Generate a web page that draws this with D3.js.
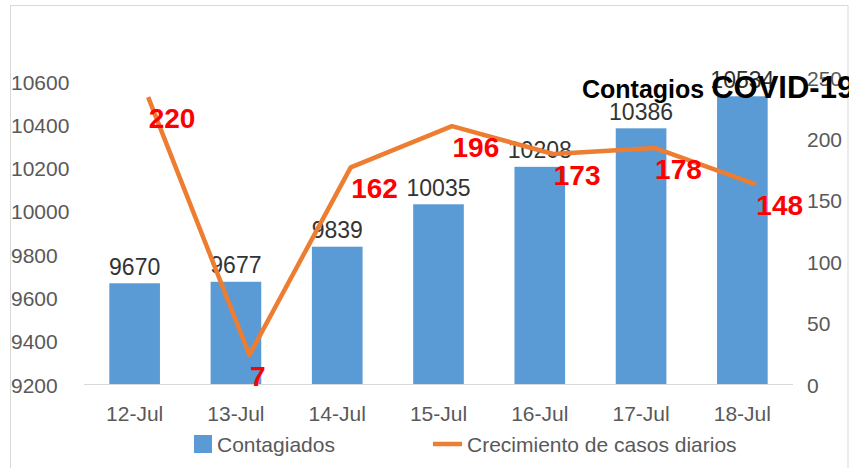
<!DOCTYPE html>
<html>
<head>
<meta charset="utf-8">
<script src="https://cdn.jsdelivr.net/npm/d3@7"></script>
<style>
  html, body { margin: 0; padding: 0; background: #fff; }
  svg { display: block; font-family: "Liberation Sans", Arial, sans-serif; }
</style>
</head>
<body>
<svg id="chart" width="849" height="468"></svg>
<script>
const categories = ["12-Jul", "13-Jul", "14-Jul", "15-Jul", "16-Jul", "17-Jul", "18-Jul"];
const contagiados = [9670, 9677, 9839, 10035, 10208, 10386, 10534];
const crecimiento = [220, 7, 162, 196, 173, 178, 148];
const leftTicks = [9200, 9400, 9600, 9800, 10000, 10200, 10400, 10600];
const rightTicks = [0, 50, 100, 150, 200, 250];
const seriesNames = ["Contagiados", "Crecimiento de casos diarios"];
const titleParts = ["Contagios ", "COVID-19"];

const svg = d3.select("#chart");

// outer border
svg.append("rect").attr("x", 10.5).attr("y", 5.5).attr("width", 837.5).attr("height", 470)
  .attr("fill", "none").attr("stroke", "#d9d9d9").attr("stroke-width", 1);

const x = d3.scaleBand().domain(categories).range([84, 793]).paddingInner(0.5).paddingOuter(0.25);
const yL = d3.scaleLinear().domain([9200, 10600]).range([385, 82]);
const yR = d3.scaleLinear().domain([0, 250]).range([385, 78]);
// the line sits in a slightly shifted plot area (as in the original)
const yLine = d3.scaleLinear().domain([0, 250]).range([363.5, 60.75]);
const xLine = c => x(c) + x.bandwidth() / 2 + 13.5;

// left axis labels
svg.append("g").selectAll("text").data(leftTicks).join("text")
  .attr("x", 11).attr("y", d => yL(d) + 7.5)
  .attr("font-size", 21).attr("fill", "#595959").text(d => d);

// right axis labels
svg.append("g").selectAll("text").data(rightTicks).join("text")
  .attr("x", 807).attr("y", d => yR(d) + 7.5)
  .attr("font-size", 21).attr("fill", "#595959").text(d => d);

// bars
svg.append("g").selectAll("rect").data(contagiados).join("rect")
  .attr("x", (d, i) => x(categories[i]))
  .attr("y", d => yL(d))
  .attr("width", x.bandwidth())
  .attr("height", d => yL(9200) - yL(d))
  .attr("fill", "#5b9bd5");

// x axis line
svg.append("line").attr("x1", 84).attr("x2", 793).attr("y1", 384.5).attr("y2", 384.5)
  .attr("stroke", "#d9d9d9").attr("stroke-width", 1);

// x tick labels
svg.append("g").selectAll("text").data(categories).join("text")
  .attr("x", d => x(d) + x.bandwidth() / 2).attr("y", 421)
  .attr("text-anchor", "middle").attr("font-size", 21).attr("fill", "#595959").text(d => d);

// bar value labels
svg.append("g").selectAll("text").data(contagiados).join("text")
  .attr("x", (d, i) => x(categories[i]) + x.bandwidth() / 2)
  .attr("y", d => yL(d) - 8.5)
  .attr("text-anchor", "middle").attr("font-size", 23).attr("fill", "#333").text(d => d);

// line
const line = d3.line().x((d, i) => xLine(categories[i])).y(d => yLine(d));
svg.append("path").datum(crecimiento).attr("d", line)
  .attr("fill", "none").attr("stroke", "#ed7d31").attr("stroke-width", 4.5)
  .attr("stroke-linejoin", "round");

// line labels
svg.append("g").selectAll("text").data(crecimiento).join("text")
  .attr("x", (d, i) => xLine(categories[i]) + 0.5)
  .attr("y", d => yLine(d) + 31)
  .attr("font-size", 28).attr("font-weight", "bold").attr("fill", "#ff0000").text(d => d);

// title (overlapping, clipped at right edge as in the original)
const title = svg.append("text").attr("x", 582).attr("y", 98).attr("fill", "#000");
title.append("tspan").attr("font-size", 25).attr("font-weight", "bold").text(titleParts[0]);
title.append("tspan").attr("font-size", 31).attr("font-weight", "bold").text(titleParts[1]);

// legend
const lg = svg.append("g");
lg.append("rect").attr("x", 194).attr("y", 435).attr("width", 18).attr("height", 18).attr("fill", "#5b9bd5");
lg.append("text").attr("x", 217).attr("y", 452).attr("font-size", 21).attr("fill", "#595959").text(seriesNames[0]);
lg.append("line").attr("x1", 433).attr("x2", 462).attr("y1", 444).attr("y2", 444)
  .attr("stroke", "#ed7d31").attr("stroke-width", 4.5);
lg.append("text").attr("x", 467).attr("y", 452).attr("font-size", 21).attr("fill", "#595959").text(seriesNames[1]);
</script>
</body>
</html>
